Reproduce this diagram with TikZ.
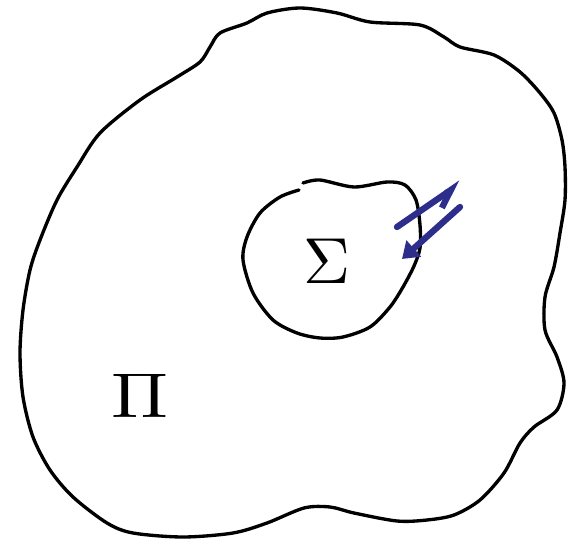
\documentclass[tikz,border=0pt]{standalone}
\usetikzlibrary{arrows.meta}
\definecolor{pen}{RGB}{45,45,140}
\begin{document}
\begin{tikzpicture}[x=0.02cm,y=-0.02cm,line cap=round,line join=round]
\useasboundingbox (0,0) rectangle (574,540);
%outer region
\draw[line width=1.9pt] plot[smooth cycle,tension=0.5] coordinates {(300,8) (337,13) (370,22) (420,25) (444,37) (460,47) (494,55) (520,72) (540,93) (554,113) (562,140) (565,167) (565,200) (560,233) (554,267) (545,297) (545,330) (557,357) (564,383) (557,410) (534,427) (520,443) (504,473) (480,500) (454,515) (427,520) (397,521) (354,513) (330,507) (304,508) (267,523) (233,533) (183,537) (133,533) (107,523) (73,497) (50,470) (33,437) (23,397) (20,353) (23,310) (30,270) (40,240) (57,200) (77,167) (100,133) (140,100) (177,77) (200,62) (210,47) (220,33) (247,23) (267,13)};
%inner region
\draw[line width=1.9pt] plot[smooth,tension=0.5] coordinates {(303,183) (320,180) (354,187) (387,182) (405,185) (416,200) (420,225) (420,248) (414,266) (403,287) (390,307) (370,327) (343,337) (320,338) (297,333) (273,320) (253,293) (243,260) (247,237) (260,213) (280,197) (299,190)};
%labels
\node[scale=3.7] (sigma) at (327,261) {$\Sigma$};
\node[scale=3.6,xscale=1.2] (pi) at (140,396) {$\Pi$};
%exchange
\coordinate (out tail) at (397,227);
\coordinate (out tip) at (461,183);
\coordinate (in tail) at (460,207);
\coordinate (in tip) at (402,259);
\draw[pen,line width=3.6pt,-{Straight Barb[harpoon,swap,length=10pt,width=11pt]}] (out tail) -- (out tip);
\draw[pen,line width=3.6pt,-{Triangle[length=9pt,width=12pt]}] (in tail) -- (in tip);
\end{tikzpicture}
\end{document}
